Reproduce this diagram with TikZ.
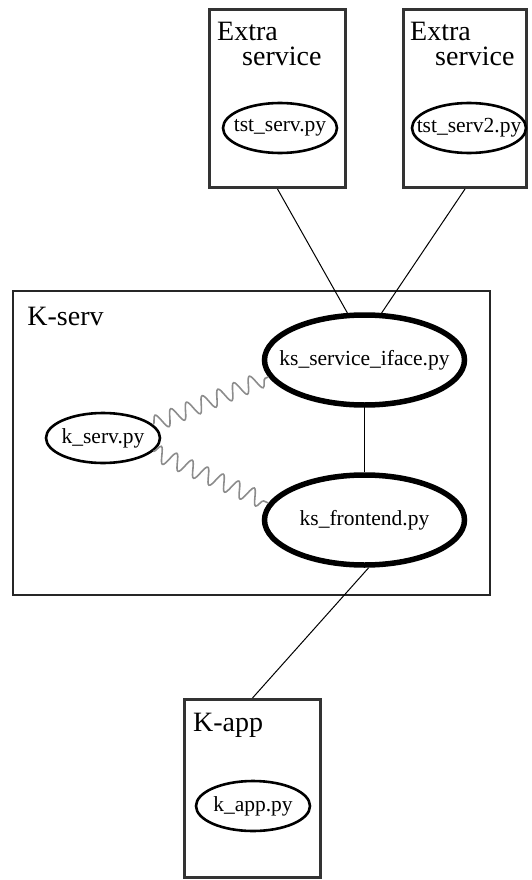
\documentclass[tikz,border=0pt]{standalone}
\usepackage{fontspec}
\setmainfont{Liberation Serif}
\usetikzlibrary{shapes.geometric,decorations.pathmorphing,positioning}
\tikzset{
  hostbox/.style={draw=black!80, line width=3pt, rectangle, inner sep=0pt, minimum width=136pt, minimum height=178pt},
  servbox/.style={draw=black!85, line width=1.6pt, rectangle, inner sep=0pt, minimum width=477pt, minimum height=304pt},
  hostlabel/.style={anchor=base west, font=\fontsize{28}{25}\selectfont, align=left, inner sep=0pt},
  pyfile/.style={draw, ellipse, line width=2.6pt, inner sep=0pt, minimum width=114pt, minimum height=50pt, font=\fontsize{21.5}{24}\selectfont},
  pycore/.style={pyfile, line width=5.5pt, minimum width=200pt, minimum height=90pt},
  wire/.style={line width=1pt},
  wavy/.style={draw=black!45, line width=1.6pt, decorate, decoration={snake, amplitude=8pt, segment length=17pt}}
}
% keeps the ellipse from growing round the file name
\newcommand{\pyname}[1]{\makebox[0pt]{#1}}

\begin{document}
\begin{tikzpicture}[x=1pt,y=-1pt]
  \useasboundingbox (0,0) rectangle (531,880);

  % extra services on top
  \node[hostbox] (extra1) at (277.5,98.5) {};
  \node[hostbox, minimum width=123pt] (extra2) at (465,98.5) {};
  \node[hostlabel] (extra1lbl) at ([shift={(9,58)}]extra1.north west) {Extra\\\hspace*{25pt}service};
  \node[hostlabel] (extra2lbl) at ([shift={(8,58)}]extra2.north west) {Extra\\\hspace*{25pt}service};
  \node[pyfile] (tst) at (280,128) {\pyname{tst\_serv.py}};
  \node[pyfile] (tst2) at (469,128) {\pyname{tst\_serv2.py}};

  % the K-serv host
  \node[servbox] (kserv) at (251.5,443) {};
  \node[hostlabel] (kservlbl) at ([shift={(15,35)}]kserv.north west) {K-serv};
  \node[pycore] (iface) at (364.5,360) {\pyname{ks\_service\_iface.py}};
  \node[pycore] (front) at (364.5,520) {\pyname{ks\_frontend.py}};
  \node[pyfile] (kservpy) at (103,438) {\pyname{k\_serv.py}};

  % the client app
  \node[hostbox] (kapp) at (252.5,788.5) {};
  \node[hostlabel] (kapplbl) at ([shift={(10,33)}]kapp.north west) {K-app};
  \node[pyfile] (kapppy) at (253,806) {\pyname{k\_app.py}};

  \draw[wire] (extra1.south) -- (iface.110);
  \draw[wire] (extra2.south) -- (iface.70);
  \draw[wire] (iface) -- (front);
  \draw[wire] (front.-85) -- (kapp.north);

  \draw[wavy] (kservpy.15) -- (iface.190);
  \draw[wavy] (kservpy.-15) -- (front.170);
\end{tikzpicture}
\end{document}
